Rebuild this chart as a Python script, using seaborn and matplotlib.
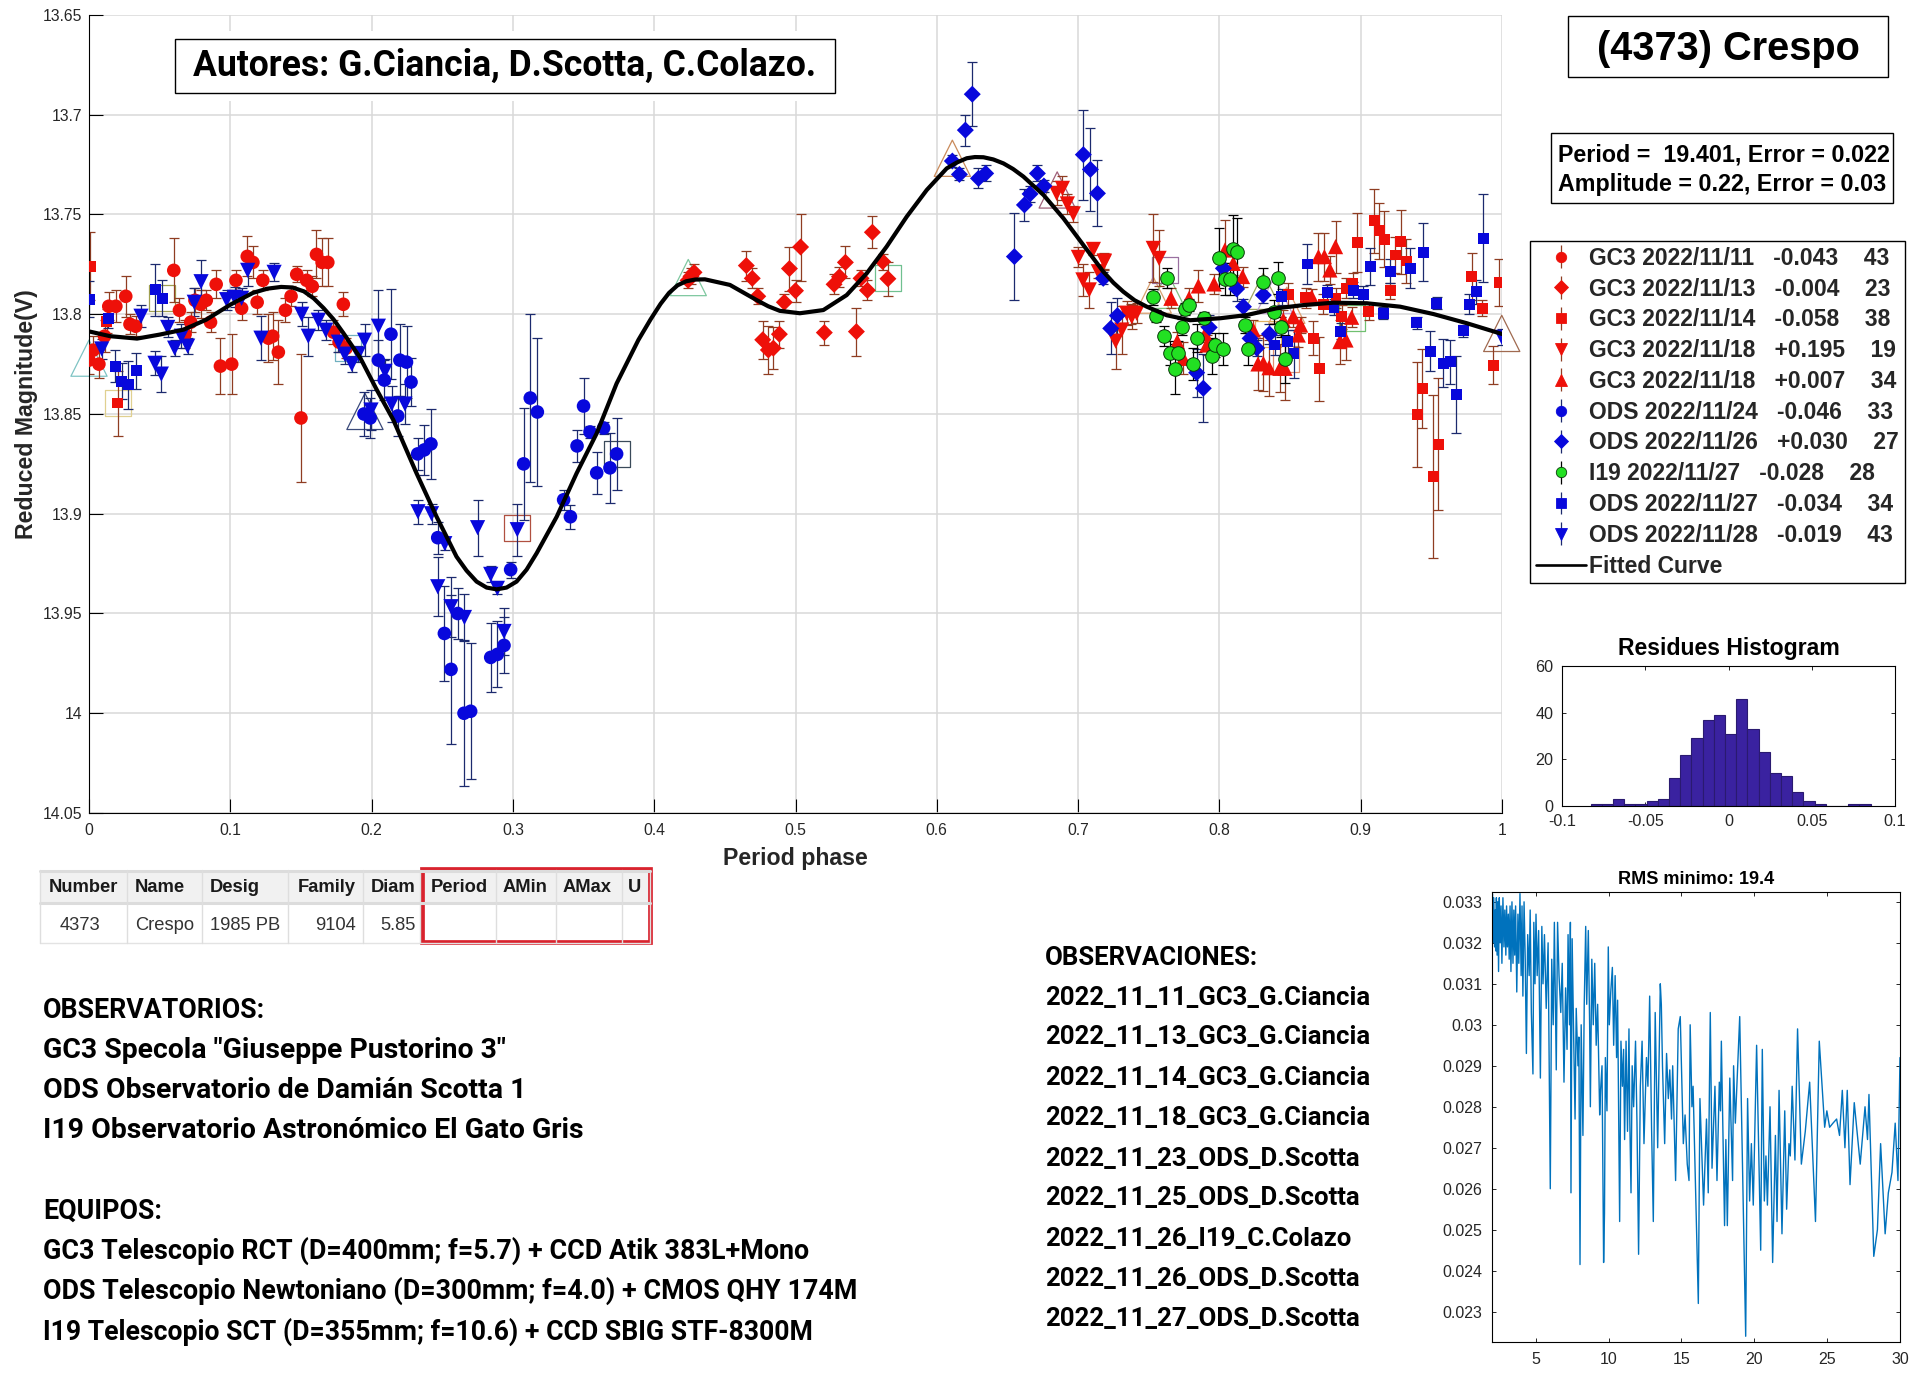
import matplotlib
matplotlib.use("Agg")
import matplotlib.pyplot as plt
from matplotlib.patches import Rectangle
import pandas as pd
import seaborn as sns

# ---- sessions: phase, reduced magnitude, error ----
a_x = [.000,.003,.007,.011,.014,.019,.026,.029,.033,.060,.064,.068,.072,.075,.079,.083,.086,.090,.093,.101,.104,.108,.112,.116,.119,.123,.127,.130,.134,.139,.143,.147,.150,.154,.158,.161,.165,.169,.173,.177,.180,.182]
a_y = [13.823,13.818,13.825,13.811,13.796,13.796,13.791,13.805,13.806,13.778,13.798,13.810,13.804,13.793,13.795,13.793,13.804,13.785,13.826,13.825,13.783,13.797,13.771,13.774,13.794,13.783,13.812,13.811,13.819,13.798,13.791,13.780,13.852,13.783,13.786,13.770,13.774,13.774,13.809,13.814,13.795,13.817]
a_e = [.007,.007,.007,.008,.007,.008,.0103,.005,.005,.016,.006,.007,.005,.006,.007,.005,.005,.007,.014,.015,.005,.006,.010,.008,.006,.005,.012,.012,.016,.006,.005,.004,.032,.005,.005,.012,.012,.012,.006,.005,.006,.005]

b_x = [.4282,.426,.424,.4652,.4694,.4733,.4768,.4808,.4843,.4886,.4921,.4957,.5,.5036,.5204,.5273,.5311,.5353,.5431,.5464,.5509,.5544,.5617,.5654]
b_y = [13.779,13.781,13.783,13.7756,13.782,13.791,13.8128,13.8179,13.817,13.81,13.794,13.7771,13.7882,13.7663,13.8092,13.785,13.7812,13.774,13.8087,13.782,13.788,13.7589,13.7736,13.7822]
b_e = [.004,.004,.004,.0075,.005,.004,.0095,.012,.0105,.0067,.004,.011,.0055,.0168,.006,.005,.005,.008,.012,.004,.005,.008,.004,.0085]

c_x = [.001,.0203,.0125,.8488,.8612,.8665,.8707,.8736,.8825,.8865,.8896,.8943,.8976,.9057,.9096,.9132,.9167,.921,.9245,.9283,.9321,.9401,.9436,.9514,.9549,.9785,.9861,.9939,.998]
c_y = [13.776,13.8445,13.8035,13.7903,13.7917,13.8121,13.8274,13.795,13.792,13.8012,13.787,13.7845,13.764,13.7987,13.7531,13.7581,13.7624,13.7883,13.7703,13.7636,13.7733,13.8502,13.8372,13.8814,13.8652,13.781,13.7971,13.8255,13.7841]
c_e = [.017,.0163,.006,.006,.005,.0085,.016,.005,.005,.006,.005,.005,.015,.004,.016,.014,.014,.004,.009,.016,.011,.0265,.02,.041,.033,.0117,.004,.0097,.012]

d_x = [.6848,.6889,.6924,.6966,.7002,.7108,.7185,.7143,.7034,.7079,.7266,.7309,.7344,.738,.7414,.7532,.7573,.7186,.7372]
d_y = [13.7394,13.7369,13.7447,13.7497,13.7715,13.7675,13.7733,13.7787,13.7828,13.7878,13.8135,13.8079,13.7995,13.8012,13.7995,13.767,13.772,13.7737,13.800]
d_e = [.006,.006,.005,.004,.005,.003,.004,.003,.008,.009,.014,.012,.006,.006,.005,.017,.014,.004,.005]

e_x = [.7657,.7785,.7851,.7962,.8164,.8098,.8039,.7702,.824,.8273,.8311,.8351,.8428,.8464,.8452,.8523,.8575,.8558,.8653,.8701,.8743,.8822,.8782,.8853,.8896,.8936,.7899,.7911,.7745]
e_y = [13.792,13.792,13.7858,13.7848,13.7811,13.7745,13.7678,13.8137,13.8079,13.8249,13.8246,13.8268,13.8271,13.8271,13.8029,13.8012,13.8054,13.8104,13.7913,13.7711,13.7711,13.7661,13.7778,13.8137,13.8129,13.8015,13.8099,13.8154,13.8221]
e_e = [.005,.005,.008,.005,.005,.006,.015,.005,.005,.013,.014,.014,.012,.016,.005,.005,.004,.006,.004,.012,.012,.013,.007,.011,.010,.005,.004,.005,.008]

f_x = [.2048,.2137,.22,.2247,.2279,.209,.1946,.199,.2185,.2326,.2373,.242,.2468,.2515,.2562,.261,.2654,.2701,.2843,.289,.2937,.2984,.3076,.3123,.3173,.3359,.3407,.3454,.35,.3546,.3593,.3642,.3687,.3734]
f_y = [13.823,13.810,13.823,13.824,13.834,13.833,13.850,13.852,13.851,13.870,13.868,13.865,13.912,13.960,13.978,13.950,14.000,13.999,13.972,13.9705,13.966,13.928,13.875,13.842,13.849,13.893,13.9015,13.866,13.846,13.859,13.8795,13.857,13.877,13.870]
f_e = [.010,.0225,.018,.018,.012,.010,.011,.010,.010,.008,.0125,.0175,.008,.0237,.0375,.013,.0365,.034,.0173,.0165,.014,.004,.028,.042,.037,.005,.006,.008,.014,.003,.0107,.003,.0175,.018]

g_x = [.611,.616,.6202,.6251,.6295,.6346,.6549,.662,.666,.6712,.6758,.7037,.7087,.7137,.7178,.7231,.7278,.7886,.7839,.7928,.8028,.8122,.817,.8217,.8311,.8354,.8264]
g_y = [13.7232,13.7299,13.7077,13.6897,13.7319,13.7294,13.7711,13.7452,13.7397,13.7294,13.7357,13.72,13.7274,13.7394,13.782,13.8071,13.8007,13.8371,13.8293,13.8066,13.777,13.7873,13.7962,13.8121,13.7904,13.8099,13.817]
g_e = [.003,.003,.0078,.016,.005,.004,.0218,.008,.004,.004,.003,.0225,.021,.0165,.003,.013,.009,.017,.012,.006,.006,.006,.004,.004,.004,.005,.004]

h_x = [.7528,.7552,.7631,.7605,.765,.771,.7683,.7735,.7756,.7787,.7813,.7839,.789,.7945,.7968,.8023,.7995,.804,.8075,.8099,.8127,.8179,.8203,.8308,.8386,.8412,.8436,.8462]
h_y = [13.7912,13.8009,13.7817,13.8109,13.8196,13.8193,13.8275,13.8062,13.7974,13.7954,13.8251,13.8121,13.802,13.8207,13.8156,13.8176,13.772,13.7825,13.7825,13.7675,13.7686,13.8054,13.8174,13.784,13.799,13.7818,13.8065,13.8226]
h_e = [.004,.003,.005,.005,.006,.006,.0127,.004,.003,.003,.008,.007,.003,.009,.006,.008,.015,.008,.008,.017,.017,.004,.008,.007,.006,.008,.005,.012]

i_x = [.0002,.0137,.0186,.0231,.0278,.0333,.0469,.0519,.8441,.8484,.8528,.8393,.8622,.8763,.8811,.8858,.8948,.9018,.9068,.916,.921,.9351,.9396,.9443,.9492,.9537,.9584,.9634,.9677,.9726,.9769,.9819,.9868]
i_y = [13.7924,13.8019,13.8261,13.8336,13.8353,13.8283,13.7877,13.7919,13.7912,13.8137,13.8199,13.8154,13.7748,13.7892,13.7966,13.8086,13.7879,13.79,13.7761,13.7995,13.7785,13.777,13.8042,13.7689,13.8186,13.7945,13.8246,13.8238,13.8401,13.8082,13.795,13.7887,13.7619]
i_e = [.009,.005,.008,.009,.012,.009,.013,.009,.004,.006,.012,.005,.01,.004,.004,.004,.004,.004,.0093,.003,.006,.01,.003,.0145,.01,.003,.012,.011,.0192,.003,.005,.006,.022]

j_x = [.009,.0368,.0467,.0512,.0557,.0606,.0654,.0698,.0745,.0793,.0974,.103,.108,.1123,.1217,.131,.1505,.1552,.1623,.1675,.1765,.181,.186,.1906,.195,.1996,.2048,.2095,.2142,.2236,.2328,.2424,.2518,.2468,.2562,.2657,.275,.2843,.289,.2937,.3031,.9999]
j_y = [13.8174,13.801,13.8246,13.830,13.8066,13.817,13.811,13.816,13.794,13.7837,13.7927,13.7915,13.792,13.778,13.812,13.779,13.800,13.811,13.803,13.808,13.814,13.820,13.825,13.820,13.813,13.848,13.806,13.8286,13.845,13.845,13.899,13.900,13.915,13.9366,13.9466,13.952,13.907,13.9304,13.9374,13.959,13.908,13.8116]
j_e = [.005,.0055,.006,.0092,.005,.004,.006,.004,.007,.011,.005,.005,.005,.008,.011,.0045,.006,.0097,.005,.005,.005,.005,.004,.004,.008,.010,.018,.006,.009,.010,.006,.005,.003,.0147,.015,.012,.014,.004,.003,.012,.013,.004]

# fitted curve
fit_x = [0,.015,.034,.05,.067,.083,.1,.116,.126,.136,.144,.152,.159,.166,.173,.18,.192,.2036,.2154,.2318,.246,.2601,.2672,.2743,.2814,.2885,.2955,.3026,.3097,.3168,.331,.3451,.3593,.3734,.3888,.3975,.4045,.4105,.4165,.4225,.429,.4359,.4536,.4725,.4807,.4889,.5031,.5197,.5362,.5504,.5645,.5787,.5929,.607,.614,.6212,.627,.633,.64,.6472,.654,.6613,.6755,.6896,.7037,.7179,.725,.732,.74,.7486,.7627,.7792,.8007,.8194,.8406,.8595,.8807,.9043,.9279,.9515,.9751,1]
fit_y = [13.8086,13.811,13.8122,13.8102,13.8077,13.8027,13.7952,13.7893,13.7872,13.7863,13.7866,13.7885,13.792,13.7969,13.8025,13.8094,13.8219,13.8378,13.853,13.8797,13.9015,13.9215,13.9285,13.934,13.937,13.9379,13.937,13.934,13.928,13.9198,13.9015,13.8797,13.8597,13.8347,13.8129,13.8025,13.7948,13.7893,13.7855,13.7835,13.7826,13.7825,13.7853,13.7929,13.796,13.7983,13.7995,13.7979,13.7904,13.7795,13.7661,13.7511,13.7377,13.7269,13.724,13.7218,13.7212,13.7213,13.7224,13.7244,13.7272,13.731,13.7402,13.7519,13.7653,13.7787,13.7842,13.7887,13.793,13.7962,13.8005,13.803,13.802,13.8004,13.797,13.7954,13.7942,13.7945,13.7962,13.7999,13.8045,13.8099]

# big open markers left on the first points of each night
tri_x = [.0,.1953,.4241,.611,.6852,.7532,.7631,.8311,.8388,.8477,.9998]
tri_y = [13.822,13.8487,13.7816,13.7218,13.7377,13.7904,13.788,13.7885,13.7905,13.7955,13.8096]
tri_c = ["#7fc4c4","#3a4a7a","#7fc8a0","#c98a5a","#a0607a","#d9a070","#80c080","#a0a860","#c0a0d0","#e0a070","#a06a50"]
sq_x = [.0203,.0519,.1835,.3031,.3734,.5657,.7613,.8346,.8468,.8936]
sq_y = [13.8445,13.7919,13.8169,13.9073,13.87,13.782,13.778,13.8099,13.8226,13.802]
sq_c = ["#e0d090","#a0a050","#70b0c0","#b05040","#3a4a5a","#70c090","#9a70a0","#e0b060","#e09070","#70c070"]

# residues histogram
hist_counts = [1,1,3,1,1,2,3,12,22,29,37,39,31,46,33,23,14,13,6,2,1,0,0,1,1]
hist_lo = -0.0828
hist_hi = 0.0854

# RMS periodogram
rms_x = [2.00,2.03,2.07,2.12,2.18,2.22,2.27,2.30,2.35,2.40,2.45,2.50,2.56,2.62,2.68,2.75,2.82,2.88,2.95,3.00,3.06,3.12,3.18,3.24,3.30,3.37,3.44,3.50,3.56,3.62,3.70,3.78,3.84,3.92,4.00,4.06,4.12,4.20,4.28,4.36,
         4.45,4.55,4.62,4.70,4.81,4.87,4.95,5.02,5.10,5.20,5.32,5.42,5.50,5.60,5.72,5.85,6.00,6.10,6.20,6.28,6.41,6.50,6.60,6.72,6.82,6.94,7.05,7.15,7.22,7.32,7.38,7.42,7.50,7.60,7.70,7.78,7.90,7.96,8.04,8.12,
         8.24,8.33,8.43,8.50,8.61,8.70,8.75,8.85,8.95,9.05,9.15,9.25,9.39,9.45,9.55,9.66,9.72,9.78,9.89,9.98,10.05,10.15,10.26,10.35,10.45,10.55,10.62,10.76,10.85,10.95,11.03,11.10,11.20,11.30,11.40,11.46,11.54,11.62,11.72,11.85,
         11.95,12.06,12.18,12.30,12.43,12.60,12.70,12.82,12.95,13.07,13.20,13.37,13.55,13.62,13.70,13.85,13.98,14.10,14.20,14.32,14.40,14.60,14.78,14.92,15.00,15.13,15.25,15.40,15.52,15.60,15.72,15.80,16.16,16.27,16.52,16.72,16.84,16.98,17.10,17.30,
         17.44,17.60,17.68,17.74,17.96,18.05,18.15,18.32,18.51,18.58,18.70,18.90,19.00,19.41,19.54,19.68,19.80,19.93,20.16,20.44,20.55,20.69,20.80,20.90,21.08,21.26,21.45,21.56,21.70,21.90,22.09,22.22,22.38,22.47,22.60,22.79,22.97,23.23,23.50,23.80,
         24.20,24.46,24.83,24.98,25.17,25.40,25.65,25.85,26.04,26.22,26.38,26.57,26.86,27.27,27.60,27.77,27.87,28.20,28.45,28.67,28.98,29.20,29.45,29.67,29.86,30.00]
rms_y = [.0322,.0332,.0320,.0331,.0319,.0328,.0318,.0331,.0317,.0330,.0313,.0331,.0320,.0329,.0315,.0331,.0319,.0328,.0317,.0329,.0319,.0327,.0316,.0329,.0313,.0330,.0315,.0328,.0317,.0329,.0308,.0327,.0315,.0332,.0312,.0329,.0307,.0330,.0316,.0293,
         .0322,.0312,.0328,.0303,.0288,.0325,.0310,.0327,.0312,.0323,.0287,.0324,.0310,.0322,.0304,.0320,.0260,.0316,.0300,.0325,.0289,.0325,.0312,.0303,.0315,.0286,.0309,.0294,.0322,.0300,.0325,.0259,.0321,.0298,.0277,.0304,.0290,.0297,.02415,.0300,
         .0273,.0305,.0324,.0305,.0323,.0300,.0280,.0316,.0300,.0315,.0295,.0305,.0278,.0284,.0290,.0242,.0254,.0292,.0279,.0319,.0300,.0308,.0314,.0295,.0312,.0292,.0306,.0252,.0296,.0285,.0294,.0272,.0296,.0274,.0299,.0276,.0259,.0290,.0280,.0296,
         .0276,.0244,.0285,.0296,.0271,.0292,.0285,.0307,.0275,.0252,.0303,.0270,.0310,.0305,.0290,.0271,.0293,.0282,.0289,.0277,.0290,.0262,.0299,.0302,.0290,.0271,.0278,.0266,.0262,.0300,.0280,.0285,.0232,.0282,.0256,.0277,.0259,.0303,.0265,.0285,
         .0262,.0286,.0279,.0296,.0251,.0272,.0251,.0287,.0262,.0290,.0276,.0293,.0302,.0224,.0282,.0257,.0271,.0256,.0295,.0245,.0294,.0257,.0268,.0256,.0280,.0242,.0273,.0252,.0284,.0249,.0279,.0255,.0271,.0268,.0285,.0267,.0299,.0266,.0274,.0286,
         .0252,.0296,.0275,.0279,.0275,.0276,.0277,.0273,.0284,.0270,.0284,.0261,.0281,.0266,.0280,.0272,.0283,.02435,.0250,.0271,.0249,.0259,.0264,.0276,.0262,.0292]

# texts
mag_ticks = [13.65,13.7,13.75,13.8,13.85,13.9,13.95,14,14.05]
mag_labels = ["13.65","13.7","13.75","13.8","13.85","13.9","13.95","14","14.05"]
phase_ticks = [0,.1,.2,.3,.4,.5,.6,.7,.8,.9,1]
phase_labels = ["0","0.1","0.2","0.3","0.4","0.5","0.6","0.7","0.8","0.9","1"]
legend_labels = ["GC3 2022/11/11   -0.043    43","GC3 2022/11/13   -0.004    23","GC3 2022/11/14   -0.058    38",
                 "GC3 2022/11/18   +0.195    19","GC3 2022/11/18   +0.007    34","ODS 2022/11/24   -0.046    33",
                 "ODS 2022/11/26   +0.030    27","I19 2022/11/27   -0.028    28","ODS 2022/11/27   -0.034    34",
                 "ODS 2022/11/28   -0.019    43","Fitted Curve"]
table_head = ["Number","Name","Desig","Family","Diam","Period","AMin","AMax","U"]
table_row = ["4373","Crespo","1985 PB","9104","5.85"]
left_lines = ['OBSERVATORIOS:','GC3 Specola "Giuseppe Pustorino 3"','ODS Observatorio de Damián Scotta 1','I19 Observatorio Astronómico El Gato Gris','',
              'EQUIPOS:','GC3 Telescopio RCT (D=400mm; f=5.7) + CCD Atik 383L+Mono','ODS Telescopio Newtoniano (D=300mm; f=4.0) + CMOS QHY 174M','I19 Telescopio SCT (D=355mm; f=10.6) + CCD SBIG STF-8300M']
right_lines = ["OBSERVACIONES:","2022_11_11_GC3_G.Ciancia","2022_11_13_GC3_G.Ciancia","2022_11_14_GC3_G.Ciancia","2022_11_18_GC3_G.Ciancia",
               "2022_11_23_ODS_D.Scotta","2022_11_25_ODS_D.Scotta","2022_11_26_I19_C.Colazo","2022_11_26_ODS_D.Scotta","2022_11_27_ODS_D.Scotta"]

W, H = 1930, 1384
RED, BLUE, GREEN = "#ee1009", "#0808dc", "#22e022"
RED_ERR, BLUE_ERR = "#8f3d22", "#1c2a6e"
INK = "#262626"

sns.set_style("white")
plt.rcParams["font.family"] = ["Liberation Sans", "DejaVu Sans"]

fig = plt.figure(figsize=(W / 100, H / 100), dpi=100)


def px_axes(x0, y0, x1, y1, **kw):
    """Axes from pixel box (y measured from the top)."""
    return fig.add_axes([x0 / W, 1 - y1 / H, (x1 - x0) / W, (y1 - y0) / H], **kw)


def plot_session(ax, x, y, err, marker, size, color, err_color, edge="none"):
    df = pd.DataFrame({"phase": x, "mag": y, "err": err})
    ax.errorbar(df.phase, df.mag, yerr=df.err, fmt="none", ecolor=err_color,
                elinewidth=0.9, capsize=3.8, capthick=0.9, zorder=2)
    sns.scatterplot(data=df, x="phase", y="mag", marker=marker, s=size, color=color,
                    edgecolor=edge, linewidth=0.7 if edge != "none" else 0, ax=ax, zorder=3, legend=False)


# ---- main phase plot ----
ax = px_axes(89, 15, 1502, 813)
for x, y, c in zip(tri_x, tri_y, tri_c):
    ax.scatter([x], [y], marker="^", s=680, facecolors="none", edgecolors=c, linewidths=0.9, zorder=2, clip_on=False)
for x, y, c in zip(sq_x, sq_y, sq_c):
    ax.scatter([x], [y], marker="s", s=350, facecolors="none", edgecolors=c, linewidths=0.9, zorder=2)

sessions = [
    (a_x, a_y, a_e, "o", 96, RED, RED_ERR, "none"),
    (b_x, b_y, b_e, "D", 75, RED, RED_ERR, "none"),
    (c_x, c_y, c_e, "s", 62, RED, RED_ERR, "none"),
    (d_x, d_y, d_e, "v", 120, RED, RED_ERR, "none"),
    (e_x, e_y, e_e, "^", 120, RED, RED_ERR, "none"),
    (f_x, f_y, f_e, "o", 96, BLUE, BLUE_ERR, "none"),
    (g_x, g_y, g_e, "D", 75, BLUE, BLUE_ERR, "none"),
    (i_x, i_y, i_e, "s", 62, BLUE, BLUE_ERR, "none"),
    (j_x, j_y, j_e, "v", 120, BLUE, BLUE_ERR, "none"),
    (h_x, h_y, h_e, "o", 96, GREEN, "#000000", "#0a3a0a"),
]
for s in sessions:
    plot_session(ax, *s)

sns.lineplot(x=fit_x, y=fit_y, color="k", lw=3.0, ax=ax, zorder=6, sort=False, estimator=None, errorbar=None)

ax.set_xlim(0, 1)
ax.set_ylim(14.05, 13.65)
ax.set_xticks(phase_ticks)
ax.set_xticklabels(phase_labels)
ax.set_yticks(mag_ticks)
ax.set_yticklabels(mag_labels)
ax.grid(True, color="#d9d9d9", lw=1.1)
ax.set_axisbelow(True)
ax.tick_params(direction="in", length=10, width=0.8, color="k", labelsize=11.3, labelcolor=INK, bottom=True, left=True, pad=7)
ax.tick_params(axis="y", pad=5)
ax.spines["top"].set_visible(False)
ax.spines["right"].set_visible(False)
ax.spines["left"].set_color("k")
ax.spines["bottom"].set_color("k")
ax.set_xlabel("Period phase", fontsize=16.7, fontweight="bold", color=INK, labelpad=7)
ax.set_ylabel("Reduced Magnitude(V)", fontsize=16.7, fontweight="bold", color=INK, labelpad=3)

# legend: proxies so the handles keep the error bar look
handles = []
for m, ms, c, ec, edge in [("o", 7.5, RED, RED_ERR, RED), ("D", 7, RED, RED_ERR, RED), ("s", 6.5, RED, RED_ERR, RED),
                           ("v", 8, RED, RED_ERR, RED), ("^", 9, RED, RED_ERR, RED),
                           ("o", 7.5, BLUE, BLUE_ERR, BLUE), ("D", 7, BLUE, BLUE_ERR, BLUE), ("o", 7.5, GREEN, "k", "#0a3a0a"),
                           ("s", 6.5, BLUE, BLUE_ERR, BLUE), ("v", 8, BLUE, BLUE_ERR, BLUE)]:
    handles.append(ax.errorbar([], [], yerr=[], fmt=m, ms=ms, mfc=c, mec=edge, mew=0.6, ecolor=ec, elinewidth=0.9, capsize=3.8, capthick=0.9))
handles.append(plt.Line2D([], [], color="k", lw=1.9))
fig.legend(handles, legend_labels, loc="upper left", bbox_to_anchor=(1530 / W, 1 - 241 / H), borderaxespad=0,
           prop={"weight": "bold", "size": 16.5}, frameon=True, fancybox=False, edgecolor="k", framealpha=1,
           handlelength=2.2, handletextpad=0.13, labelspacing=0.34, borderpad=0.25, numpoints=1)

# ---- residues histogram ----
ax_h = px_axes(1562, 666, 1895, 806)
hist_df = pd.DataFrame({"center": [hist_lo + (i + 0.5) * (hist_hi - hist_lo) / len(hist_counts) for i in range(len(hist_counts))], "n": hist_counts})
sns.histplot(data=hist_df, x="center", weights="n", bins=len(hist_counts), binrange=(hist_lo, hist_hi),
             color="#3a22a0", edgecolor="#2a1a70", linewidth=0.8, alpha=1, ax=ax_h)
ax_h.set_xlim(-0.1, 0.1)
ax_h.set_ylim(0, 60)
ax_h.set_xticks([-0.1, -0.05, 0, 0.05, 0.1])
ax_h.set_xticklabels(["-0.1", "-0.05", "0", "0.05", "0.1"])
ax_h.set_yticks([0, 20, 40, 60])
ax_h.set_xlabel("")
ax_h.set_ylabel("")
ax_h.tick_params(direction="in", length=3, width=0.7, labelsize=11.6, labelcolor=INK, top=True, right=True, bottom=True, left=True, pad=6)
ax_h.set_title("Residues Histogram", fontsize=16.6, fontweight="bold", color="k", pad=8)
for sp in ax_h.spines.values():
    sp.set_color("k")
    sp.set_linewidth(0.8)

# ---- RMS vs period ----
ax_r = px_axes(1492, 892, 1900, 1342)
sns.lineplot(x=rms_x, y=rms_y, color="#0072bd", lw=1.0, ax=ax_r, sort=False, estimator=None, errorbar=None)
ax_r.set_xlim(2, 30)
ax_r.set_ylim(0.02226, 0.03324)
ax_r.set_xticks([5, 10, 15, 20, 25, 30])
ax_r.set_yticks([.023, .024, .025, .026, .027, .028, .029, .03, .031, .032, .033])
ax_r.set_yticklabels(["0.023", "0.024", "0.025", "0.026", "0.027", "0.028", "0.029", "0.03", "0.031", "0.032", "0.033"])
ax_r.tick_params(direction="in", length=3, width=0.7, labelsize=11.5, labelcolor=INK, top=True, right=True, bottom=True, left=True, pad=7)
ax_r.set_title("RMS minimo: 19.4", fontsize=13.1, fontweight="bold", color="k", pad=6)
for sp in ax_r.spines.values():
    sp.set_color("k")
    sp.set_linewidth(0.8)

# ---- page overlay: boxes, table and text blocks in pixel coordinates ----
page = fig.add_axes([0, 0, 1, 1], zorder=10)
page.set_xlim(0, W)
page.set_ylim(H, 0)
page.axis("off")
page.patch.set_alpha(0)


def text_box(x0, y0, x1, y1, halo=0):
    if halo:
        page.add_patch(Rectangle((x0 - halo, y0 - halo), x1 - x0 + 2 * halo, y1 - y0 + 2 * halo, fc="w", ec="none"))
    page.add_patch(Rectangle((x0, y0), x1 - x0, y1 - y0, fc="w", ec="k", lw=1.0))


text_box(175, 39, 835, 93, halo=8)
page.text(505, 66, "Autores: G.Ciancia, D.Scotta, C.Colazo.", fontsize=25.6, fontweight="bold", family="Roboto", ha="center", va="center", color="k")
text_box(1568, 16, 1888, 77)
page.text(1728, 49, "(4373) Crespo", fontsize=28.6, fontweight="bold", ha="center", va="center", color="k")
text_box(1551, 133, 1893, 203)
page.text(1558, 155, "Period =  19.401, Error = 0.022", fontsize=16.75, fontweight="bold", ha="left", va="center", color="k")
page.text(1558, 185, "Amplitude = 0.22, Error = 0.03", fontsize=16.75, fontweight="bold", ha="left", va="center", color="k")

# table
col_edges = [40, 127, 202, 288, 363, 420, 496, 556, 622, 650]
page.add_patch(Rectangle((40, 870), 610, 33, fc="#f1f1f1", ec="none"))
page.plot([40, 650], [871, 871], color="#dcdcdc", lw=2.2)
page.plot([40, 650], [903, 903], color="#dcdcdc", lw=2.2)
page.plot([40, 650], [943, 943], color="#e3e3e3", lw=1)
for xe in col_edges:
    page.plot([xe, xe], [870, 943], color="#dedede", lw=1)
head_x = [49, 135, 210, 356, 416, 431, 503, 563, 628]
head_ha = ["left", "left", "left", "right", "right", "left", "left", "left", "left"]
for x, name, ha in zip(head_x, table_head, head_ha):
    page.text(x, 887, name, fontsize=13.2, fontweight="bold", ha=ha, va="center", color="#1a1a1a")
row_x = [80, 135, 210, 356, 416]
row_ha = ["center", "left", "left", "right", "right"]
for x, val, ha in zip(row_x, table_row, row_ha):
    page.text(x, 925, val, fontsize=13.2, ha=ha, va="center", color="#333333")
page.add_patch(Rectangle((421.5, 869), 228, 73, fc="none", ec="#d9232e", lw=3.4))

left_y = [1010, 1050, 1091, 1130, 1171, 1211, 1251, 1291, 1332]
left_size = [19.3, 20.4, 20.4, 20.4, 19.3, 19.3, 19.4, 19.4, 19.2]
for y, line, fs in zip(left_y, left_lines, left_size):
    page.text(43, y, line, fontsize=fs, fontweight="bold", family="Roboto", ha="left", va="center", color="k")
right_y = [958, 998, 1037, 1078, 1118, 1159, 1198, 1239, 1279, 1319]
for y, line in zip(right_y, right_lines):
    page.text(1045, y, line, fontsize=18.5, fontweight="bold", family="Roboto", ha="left", va="center", color="k")

fig.savefig("out.png", dpi=100)
